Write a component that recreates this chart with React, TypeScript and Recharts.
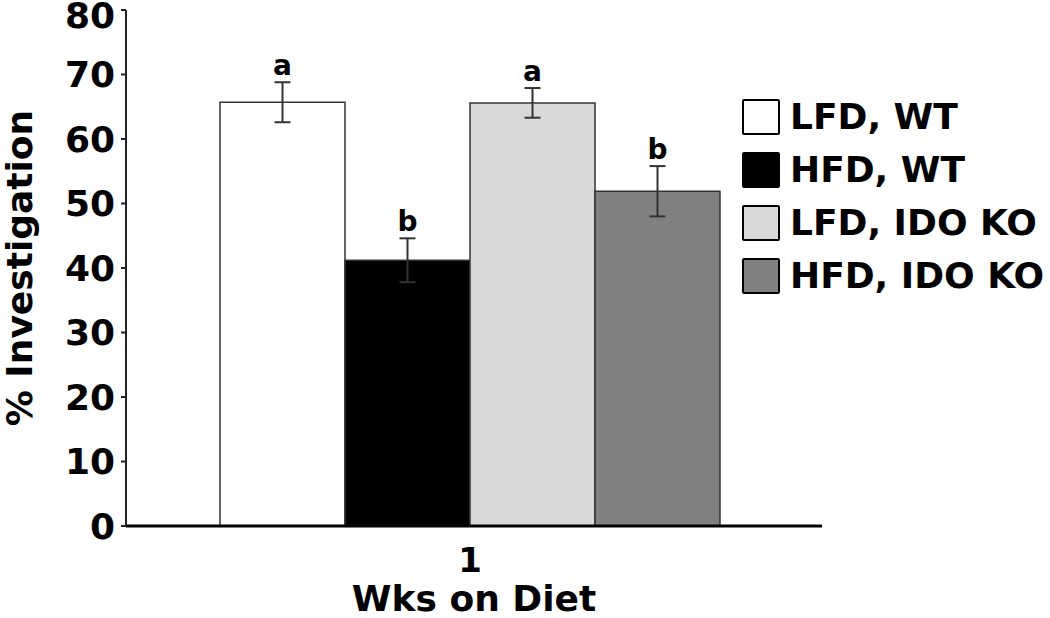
import React from "react";
import { BarChart, Bar, XAxis, YAxis, ErrorBar, LabelList, Label } from "recharts";

const weeks = ["1"];
const seriesNames = ["LFD, WT", "HFD, WT", "LFD, IDO KO", "HFD, IDO KO"];
const means = [65.7, 41.2, 65.6, 51.9];
const errors = [3.1, 3.4, 2.3, 3.9];
const letters = ["a", "b", "a", "b"];
const colors = ["#ffffff", "#000000", "#d9d9d9", "#808080"];
const yTicks = [0, 10, 20, 30, 40, 50, 60, 70, 80];

const FONT = "'DejaVu Sans', Verdana, sans-serif";

const data = weeks.map((w) => {
  const row: Record<string, string | number> = { week: w };
  seriesNames.forEach((_, i) => {
    row[`m${i}`] = means[i];
    row[`e${i}`] = errors[i];
  });
  return row;
});

// letter drawn above the error bar: pixels-per-unit taken from the bar geometry
const letterLabel = (i: number) => (props: any) => {
  const { x, y, width, height } = props;
  const ppu = Number(height) / means[i];
  const ly = Number(y) - errors[i] * ppu - 7;
  return (
    <text x={Number(x) + Number(width) / 2} y={ly} textAnchor="middle" fontFamily={FONT} fontWeight="bold" fontSize={28} fill="#000">
      {letters[i]}
    </text>
  );
};

// y tick text; the top one is nudged down so it isn't clipped by the page edge
const YTick = (props: any) => {
  const { x, y, payload } = props;
  const ty = Math.max(Number(y), 15);
  return (
    <text x={Number(x)} y={ty} dy="0.36em" textAnchor="end" fontFamily={FONT} fontWeight="bold" fontSize={36} fill="#000">
      {payload.value}
    </text>
  );
};

// legend as a plain block beside the plot, so it doesn't shrink the plot area
function SeriesLegend() {
  return (
    <div style={{ position: "absolute", left: 742, top: 90, fontFamily: FONT, fontWeight: "bold", fontSize: 36 }}>
      {seriesNames.map((name, i) => (
        <div key={name} style={{ display: "flex", alignItems: "center", height: 53, whiteSpace: "nowrap" }}>
          <div style={{ width: 34, height: 32, background: colors[i], border: "2px solid #000", borderRadius: 2, marginRight: 10 }} />
          <span style={{ lineHeight: "36px" }}>{name}</span>
        </div>
      ))}
    </div>
  );
}

export default function App() {
  return (
    <div style={{ position: "absolute", left: 0, top: 0, width: 1050, height: 618, background: "#fff" }}>
      <BarChart width={1050} height={618} data={data} margin={{ top: 10, right: 228, bottom: 0, left: 0 }} barCategoryGap={0} barGap={0}>
        <XAxis
          dataKey="week"
          height={92}
          padding={{ left: 94, right: 102 }}
          tickLine={false}
          axisLine={{ stroke: "#000", strokeWidth: 3 }}
          tick={{ fontFamily: FONT, fontWeight: "bold", fontSize: 34, fill: "#000" }}
          tickMargin={16}
        >
          <Label value="Wks on Diet" position="insideBottom" offset={7} style={{ fontFamily: FONT, fontWeight: "bold", fontSize: 36, fill: "#000" }} />
        </XAxis>
        <YAxis
          width={126}
          domain={[0, 80]}
          ticks={yTicks}
          interval={0}
          tickSize={5}
          tickMargin={6}
          axisLine={{ stroke: "#222", strokeWidth: 2 }}
          tickLine={{ stroke: "#222", strokeWidth: 2 }}
          tick={<YTick />}
        >
          <Label
            value="% Investigation"
            angle={-90}
            position="insideLeft"
            offset={19}
            style={{ textAnchor: "middle", fontFamily: FONT, fontWeight: "bold", fontSize: 36, fill: "#000" }}
          />
        </YAxis>
        {seriesNames.map((name, i) => (
          <Bar key={name} dataKey={`m${i}`} name={name} fill={colors[i]} stroke="#333" strokeWidth={1.5} isAnimationActive={false}>
            <ErrorBar dataKey={`e${i}`} width={8} stroke="#333" strokeWidth={2} direction="y" />
            <LabelList dataKey={`m${i}`} content={letterLabel(i)} />
          </Bar>
        ))}
      </BarChart>
      <SeriesLegend />
    </div>
  );
}
